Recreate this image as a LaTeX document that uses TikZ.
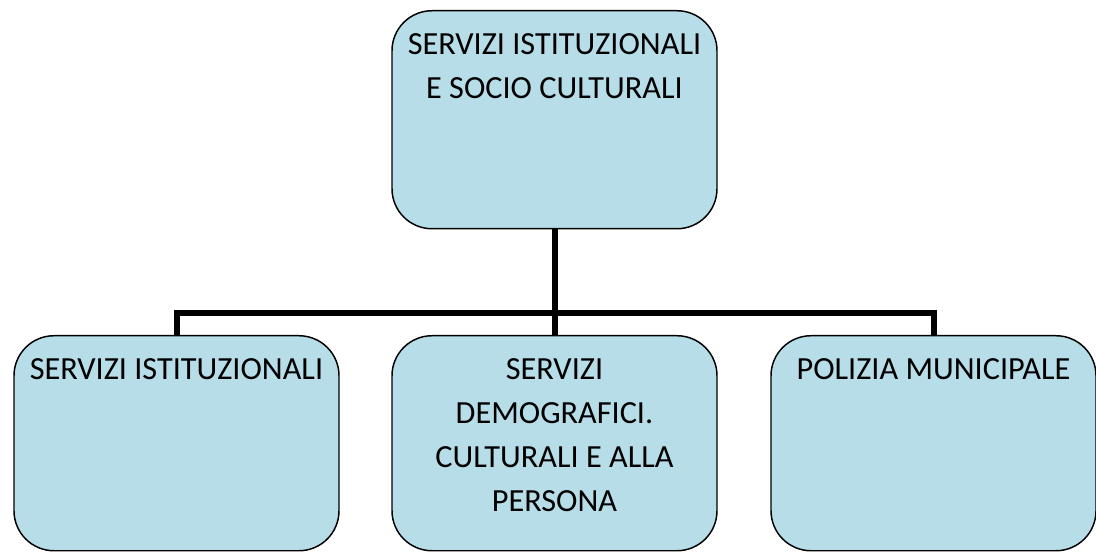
\documentclass[tikz,border=0pt]{standalone}
\usepackage{fontspec}
\setmainfont{Carlito}
\definecolor{azzurro}{RGB}{183,222,232}
\newcommand{\casella}[2]{\parbox[c][#1][t]{243.75pt}{\centering\fontsize{24.2pt}{33pt}\selectfont\rule{0pt}{33pt}#2}}
\tikzset{
  ufficio/.style = {draw, line width = 1.1pt, fill = azzurro, rounded corners = 30pt, inner sep = 0pt, anchor = north},
  ramo/.style = {line width = 4.5pt}
}
\begin{document}
\begin{tikzpicture} [x = 0.75pt, y = -0.75pt]
\useasboundingbox (0,0) rectangle (1096,552);
% boxes
\node[ufficio] (capo) at (554.5,10) {\casella{163.5pt}{SERVIZI ISTITUZIONALI\\E SOCIO CULTURALI}};
\node[ufficio] (ist) at (176.5,335) {\casella{161.25pt}{SERVIZI ISTITUZIONALI}};
\node[ufficio] (dem) at (554.5,335) {\casella{161.25pt}{SERVIZI\\DEMOGRAFICI.\\CULTURALI E ALLA\\PERSONA}};
\node[ufficio] (pm) at (933.5,335) {\casella{161.25pt}{POLIZIA MUNICIPALE}};
% connectors
\coordinate (snodo) at (554.5,313);
\draw[ramo] (capo.south) -- (snodo);
\draw[ramo] (ist.north) |- (snodo) -| (pm.north);
\draw[ramo] (snodo) -- (dem.north);
\end{tikzpicture}
\end{document}
